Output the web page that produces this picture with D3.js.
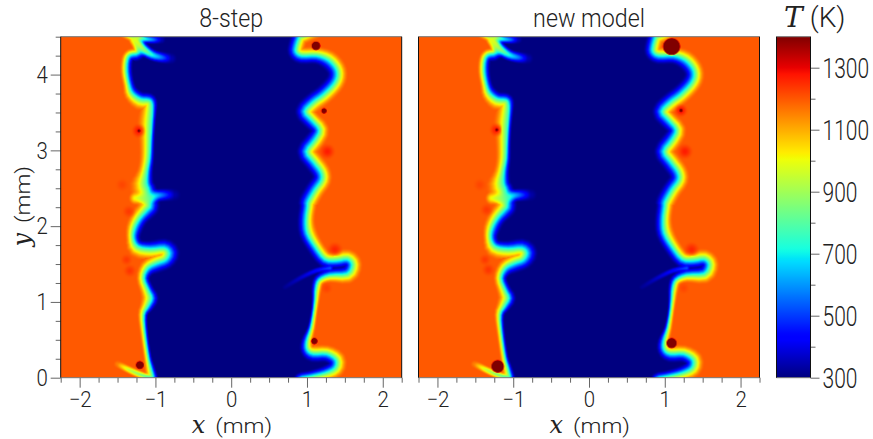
<!DOCTYPE html>
<html>
<head>
<meta charset="utf-8">
<script src="https://cdn.jsdelivr.net/npm/d3@7"></script>
<style>
	body { margin: 0; background: #fff; }
	svg { display: block; }
	text { fill: #222; font-family: Roboto, sans-serif; font-weight: 300; }
</style>
</head>
<body>
<div id="chart"></div>
<script>
// flame fronts: x (mm), y (mm), half thickness unburnt side, half thickness burnt side
var left8 = [
	[-1.0,-.114,.04,.05],[-1.031,.018,.04,.06],[-1.066,.15,.035,.05],[-1.096,.28,.03,.04],[-1.14,.59,.03,.04],
	[-1.154,.83,.035,.05],[-1.10,.94,.05,.07],[-1.053,1.05,.06,.09],[-1.096,1.16,.05,.07],[-1.154,1.315,.05,.06],
	[-1.10,1.447,.07,.07],[-.978,1.513,.08,.08],[-.868,1.557,.08,.08],[-.825,1.645,.09,.09],[-.89,1.71,.08,.08],
	[-1.066,1.70,.07,.09],[-1.232,1.733,.06,.09],[-1.294,1.843,.06,.06],[-1.276,1.975,.07,.07],[-1.206,2.106,.07,.08],
	[-1.11,2.216,.08,.09],[-1.07,2.28,.08,.1],[-1.09,2.47,.07,.13],[-1.118,2.568,.06,.13],[-1.11,2.722,.05,.08],
	[-1.079,2.898,.04,.08],[-1.066,3.118,.035,.09],[-1.053,3.338,.035,.11],[-1.044,3.514,.04,.1],[-1.05,3.62,.05,.08],
	[-1.09,3.665,.06,.08],[-1.2,3.68,.06,.09],[-1.307,3.755,.06,.07],[-1.351,3.866,.05,.05],[-1.382,4.041,.05,.05],
	[-1.373,4.195,.05,.05],[-1.329,4.261,.06,.05],[-1.232,4.287,.06,.05],[-1.232,4.393,.05,.05],[-1.285,4.499,.05,.05],
	[-1.285,4.613,.05,.05]
];
var right8 = [
	[.93,4.613,.07,.07],[.899,4.499,.07,.07],[.864,4.393,.07,.07],[.855,4.305,.07,.07],[.93,4.252,.07,.07],
	[1.127,4.252,.07,.07],[1.281,4.195,.08,.08],[1.382,4.085,.08,.08],[1.399,3.975,.08,.08],[1.346,3.865,.08,.08],
	[1.215,3.734,.08,.08],[1.083,3.637,.08,.08],[.974,3.514,.08,.08],[1.061,3.404,.08,.07],[1.162,3.272,.07,.08],
	[1.105,3.14,.08,.08],[.996,2.986,.08,.08],[1.083,2.854,.08,.08],[1.18,2.722,.08,.08],[1.193,2.612,.08,.08],
	[1.105,2.48,.08,.08],[1.018,2.326,.08,.08],[1.009,2.26,.07,.07],[.987,2.084,.07,.07],[1.004,1.909,.07,.08],
	[1.105,1.733,.07,.07],[1.237,1.566,.07,.07],[1.39,1.548,.07,.08],[1.531,1.566,.07,.08],[1.596,1.491,.07,.08],
	[1.531,1.372,.07,.08],[1.303,1.354,.06,.06],[1.162,1.293,.05,.05],[1.118,1.183,.04,.05],[1.105,1.029,.03,.04],
	[1.083,.853,.025,.035],[1.048,.655,.03,.04],[.996,.479,.05,.05],[1.004,.369,.06,.06],[1.083,.317,.07,.07],
	[1.259,.317,.07,.07],[1.382,.237,.07,.08],[1.368,.128,.07,.08],[1.237,.062,.06,.07],[1.039,.018,.05,.06],
	[.908,-.013,.05,.06],[.908,-.114,.05,.06]
];
var leftNew = [
	[-1.01,-.114,.04,.05],[-1.04,.018,.04,.06],[-1.075,.15,.035,.05],[-1.11,.28,.03,.04],[-1.155,.59,.03,.04],
	[-1.17,.83,.035,.05],[-1.115,.94,.05,.07],[-1.06,1.05,.06,.09],[-1.105,1.16,.05,.07],[-1.16,1.315,.05,.06],
	[-1.10,1.447,.07,.07],[-.98,1.513,.08,.08],[-.87,1.557,.08,.08],[-.825,1.645,.09,.09],[-.89,1.71,.08,.08],
	[-1.066,1.70,.07,.09],[-1.235,1.733,.06,.09],[-1.298,1.843,.06,.06],[-1.28,1.975,.07,.07],[-1.21,2.106,.07,.08],
	[-1.115,2.216,.08,.09],[-1.08,2.28,.08,.1],[-1.10,2.47,.07,.13],[-1.13,2.568,.06,.13],[-1.125,2.722,.05,.08],
	[-1.095,2.898,.04,.08],[-1.085,3.118,.035,.09],[-1.072,3.338,.035,.11],[-1.06,3.514,.04,.1],[-1.065,3.62,.05,.08],
	[-1.10,3.665,.06,.08],[-1.21,3.68,.06,.09],[-1.31,3.755,.06,.07],[-1.355,3.866,.05,.05],[-1.385,4.041,.05,.05],
	[-1.375,4.195,.05,.05],[-1.33,4.261,.06,.05],[-1.235,4.287,.06,.05],[-1.235,4.393,.05,.05],[-1.29,4.499,.05,.05],
	[-1.29,4.613,.05,.05]
];
var rightNew = [
	[.91,4.613,.07,.07],[.88,4.499,.07,.07],[.85,4.393,.07,.07],[.845,4.305,.07,.07],[.92,4.252,.07,.07],
	[1.12,4.252,.07,.07],[1.27,4.195,.08,.08],[1.37,4.085,.08,.08],[1.39,3.975,.08,.08],[1.335,3.865,.08,.08],
	[1.205,3.734,.08,.08],[1.075,3.637,.08,.08],[.965,3.514,.08,.08],[1.05,3.404,.08,.07],[1.15,3.272,.07,.08],
	[1.095,3.14,.08,.08],[.99,2.986,.08,.08],[1.075,2.854,.08,.08],[1.17,2.722,.08,.08],[1.185,2.612,.08,.08],
	[1.095,2.48,.08,.08],[1.01,2.326,.08,.08],[1.0,2.26,.07,.07],[.98,2.084,.07,.07],[.995,1.909,.07,.08],
	[1.095,1.733,.07,.07],[1.23,1.566,.07,.07],[1.38,1.548,.07,.08],[1.52,1.566,.07,.08],[1.585,1.491,.07,.08],
	[1.52,1.372,.07,.08],[1.29,1.354,.06,.06],[1.15,1.293,.05,.05],[1.105,1.183,.04,.05],[1.09,1.029,.03,.04],
	[1.07,.853,.025,.035],[1.035,.655,.03,.04],[.985,.479,.05,.05],[.995,.369,.06,.06],[1.075,.317,.07,.07],
	[1.25,.317,.07,.07],[1.372,.237,.07,.08],[1.358,.128,.07,.08],[1.227,.062,.06,.07],[1.03,.018,.05,.06],
	[.9,-.013,.05,.06],[.9,-.114,.05,.06]
];

// thin tongues: x, y, temperature along the tongue, half width
var wisps8 = [
	[[-1.263,2.37,1000,.1],[-1.11,2.37,850,.1],[-.978,2.405,650,.1],[-.846,2.414,480,.1],[-.75,2.414,340,.1]],
	[[-1.263,4.459,1000,.1],[-1.175,4.349,900,.1],[-1.044,4.261,720,.09],[-.912,4.226,560,.09],[-.794,4.213,350,.09]],
	[[-1.232,4.49,950,.07],[-1.132,4.472,720,.07],[-1.022,4.463,560,.07],[-.925,4.463,360,.07]],
	[[-1.5,.18,1150,.06],[-1.439,.15,1050,.06],[-1.351,.106,950,.06],[-1.232,.053,880,.06],[-1.088,.004,800,.05]],
	[[.711,1.196,320,.05],[.908,1.315,370,.05],[1.127,1.416,440,.05],[1.303,1.447,520,.05]]
];
var wispsNew = [
	[[-1.28,2.37,1000,.1],[-1.13,2.37,850,.1],[-.99,2.405,650,.1],[-.86,2.414,480,.1],[-.77,2.414,340,.1]],
	[[-1.27,4.459,1000,.1],[-1.185,4.349,900,.1],[-1.055,4.261,720,.09],[-.925,4.226,560,.09],[-.81,4.213,350,.09]],
	[[-1.24,4.49,950,.07],[-1.14,4.472,720,.07],[-1.03,4.463,560,.07],[-.94,4.463,360,.07]],
	[[-1.51,.18,1150,.06],[-1.445,.15,1050,.06],[-1.36,.106,950,.06],[-1.24,.053,880,.06],[-1.095,.004,800,.05]],
	[[.70,1.196,320,.05],[.90,1.315,370,.05],[1.115,1.416,440,.05],[1.29,1.447,520,.05]]
];

// hot spots: x, y, radius, peak temperature
var spots8 = [[1.118,4.38,.05,1400],[1.224,3.522,.028,1400],[1.096,.484,.035,1400],[-1.206,.167,.045,1400],[-1.219,3.259,.012,1400]];
var spotsNew = [[1.09,4.37,.105,1400],[1.214,3.527,.014,1400],[1.09,.457,.06,1400],[-1.205,.15,.075,1400],[-1.218,3.272,.012,1400]];
var glows8 = [[1.268,2.986,.12,1270],[1.368,1.689,.12,1260],[-1.338,1.412,.1,1240],[-1.382,1.557,.09,1235],[-1.351,2.194,.1,1235],[-1.439,2.546,.1,1220],[1.259,1.183,.09,1225],[-1.219,3.259,.11,1280]];
var glowsNew = [[1.266,2.986,.12,1270],[1.354,1.689,.12,1260],[-1.328,1.425,.1,1240],[-1.372,1.557,.09,1235],[-1.35,2.216,.1,1235],[-1.44,2.546,.1,1220],[1.25,1.183,.09,1220],[-1.218,3.272,.11,1280],[1.214,3.527,.1,1290]];

var xMajor = [-2, -1, 0, 1, 2];
var xMinor = [-2.25, -1.75, -1.5, -1.25, -.75, -.5, -.25, .25, .5, .75, 1.25, 1.5, 1.75, 2.25];
var yMajor = [0, 1, 2, 3, 4];
var yMinor = [.25, .5, .75, 1.25, 1.5, 1.75, 2.25, 2.5, 2.75, 3.25, 3.5, 3.75, 4.25, 4.5];
var tMajor = [300, 500, 700, 900, 1100, 1300];
var tMinor = [400, 600, 800, 1000, 1200];

var tCold = 300, tHot = 1197, tMax = 1400;
var thick = 1.85;
var width = 873, height = 439;

var svg = d3.select("#chart").append("svg").attr("width", width).attr("height", height);

var yScale = d3.scaleLinear().domain([0, 4.5]).range([377.7, 36.7]);
var tScale = d3.scaleLinear().domain([tCold, tMax]).range([377.7, 36.7]);

// matplotlib jet
var jetR = d3.scaleLinear().domain([0, .35, .66, .89, 1]).range([0, 0, 1, 1, .5]);
var jetG = d3.scaleLinear().domain([0, .125, .375, .64, .91, 1]).range([0, 0, 1, 1, 0, 0]);
var jetB = d3.scaleLinear().domain([0, .11, .34, .65, 1]).range([.5, 1, 1, 0, 0]);
function jet(T) {
	var t = Math.max(0, Math.min(1, (T - tCold) / (tMax - tCold)));
	return [Math.round(jetR(t) * 255), Math.round(jetG(t) * 255), Math.round(jetB(t) * 255)];
}

function smooth(u) {
	u = Math.max(0, Math.min(1, u));
	return u * u * (3 - 2 * u);
}

// round off the read points (catmull-rom through them, all columns)
function rounded(path, closed) {
	var out = [], n = path.length, steps = 3;
	function at(i) {
		return closed ? path[(i + n) % n] : path[Math.max(0, Math.min(n - 1, i))];
	}
	var last = closed ? n : n - 1;
	for (var i = 0; i < last; i++) {
		var p0 = at(i - 1), p1 = at(i), p2 = at(i + 1), p3 = at(i + 2);
		for (var s = 0; s < steps; s++) {
			var t = s / steps;
			out.push(p1.map(function(v, c) {
				return .5 * (2 * v + (p2[c] - p0[c]) * t + (2 * p0[c] - 5 * v + 4 * p2[c] - p3[c]) * t * t + (3 * v - p0[c] - 3 * p2[c] + p3[c]) * t * t * t);
			}));
		}
	}
	out.push(closed ? out[0] : path[n - 1]);
	return out;
}

function nearest(path, x, y) {
	var best = Infinity, bi = 0, bf = 0;
	for (var i = 0; i < path.length - 1; i++) {
		var a = path[i], b = path[i + 1];
		var dx = b[0] - a[0], dy = b[1] - a[1];
		var f = ((x - a[0]) * dx + (y - a[1]) * dy) / (dx * dx + dy * dy);
		f = Math.max(0, Math.min(1, f));
		var ex = a[0] + f * dx - x, ey = a[1] + f * dy - y;
		var d = ex * ex + ey * ey;
		if (d < best) { best = d; bi = i; bf = f; }
	}
	return { d: Math.sqrt(best), i: bi, f: bf };
}

function temperature(x, y, front, poly, wisps, spots, glows) {
	var T;
	if (x > -.6 && x < .6) {
		T = tCold;
	} else {
		var n = nearest(front, x, y);
		var a = front[n.i], b = front[n.i + 1];
		var inside = d3.polygonContains(poly, [x, y]);
		var wu = (a[2] + (b[2] - a[2]) * n.f) * thick, wb = (a[3] + (b[3] - a[3]) * n.f) * thick;
		var u = inside ? .5 - .5 * Math.min(1, n.d / wu) : .5 + .5 * Math.min(1, n.d / wb);
		T = tCold + (tHot - tCold) * smooth(u);
	}

	glows.forEach(function(g) {
		var d = Math.hypot(x - g[0], y - g[1]);
		if (d < g[2] && T > 1000) T += (g[3] - T) * smooth(1 - d / g[2]);
	});
	wisps.forEach(function(w) {
		var m = nearest(w, x, y);
		var p = w[m.i], q = w[m.i + 1];
		var hw = p[3] + (q[3] - p[3]) * m.f;
		if (m.d < hw) {
			var target = p[2] + (q[2] - p[2]) * m.f;
			T += (target - T) * smooth(1 - m.d / hw);
		}
	});
	spots.forEach(function(s) {
		var d = Math.hypot(x - s[0], y - s[1]);
		var soft = .014;
		if (d < s[2] + soft) T += (s[3] - T) * smooth((s[2] + soft - d) / soft);
	});
	return T;
}

function drawPanel(x0, x1, title, leftFront, rightFront, wisps, spots, glows, withY) {
	var xScale = d3.scaleLinear().domain([-2.25, 2.25]).range([x0, x1]);
	var closed = rounded(leftFront.concat(rightFront), true);
	var poly = closed.map(function(d) { return [d[0], d[1]]; });
	var tongues = wisps.map(function(w) { return rounded(w, false); });

	var w = Math.round(x1 - x0), h = Math.round(yScale(0) - yScale(4.5));
	var canvas = document.createElement("canvas");
	canvas.width = w;
	canvas.height = h;
	var ctx = canvas.getContext("2d");
	var img = ctx.createImageData(w, h);
	for (var j = 0; j < h; j++) {
		var y = yScale.invert(yScale(4.5) + j + .5);
		for (var i = 0; i < w; i++) {
			var x = xScale.invert(x0 + i + .5);
			var c = jet(temperature(x, y, closed, poly, tongues, spots, glows));
			var k = (j * w + i) * 4;
			img.data[k] = c[0];
			img.data[k + 1] = c[1];
			img.data[k + 2] = c[2];
			img.data[k + 3] = 255;
		}
	}
	ctx.putImageData(img, 0, 0);

	svg.append("image")
		.attr("x", x0).attr("y", yScale(4.5))
		.attr("width", w).attr("height", h)
		.attr("href", canvas.toDataURL());

	var g = svg.append("g");
	var major = d3.axisBottom(xScale).tickValues(xMajor).tickSize(10).tickPadding(4)
		.tickFormat(function(d) { return d < 0 ? "\u2212" + (-d) : d; });
	var minor = d3.axisBottom(xScale).tickValues(xMinor).tickSize(5).tickFormat("");
	styleAxis(g.append("g").attr("transform", "translate(0," + yScale(0) + ")").call(major), .93, 22);
	styleAxis(g.append("g").attr("transform", "translate(0," + yScale(0) + ")").call(minor), .93, 22);

	if (withY) {
		var ymajor = d3.axisLeft(yScale).tickValues(yMajor).tickSize(10).tickPadding(3).tickFormat(d3.format("d"));
		var yminor = d3.axisLeft(yScale).tickValues(yMinor).tickSize(5).tickFormat("");
		styleAxis(g.append("g").attr("transform", "translate(" + x0 + ",0)").call(ymajor), .85, 24);
		styleAxis(g.append("g").attr("transform", "translate(" + x0 + ",0)").call(yminor), .85, 24);
	}

	frame(x0, x1);

	svg.append("text").attr("x", (x0 + x1) / 2).attr("y", 27)
		.attr("text-anchor", "middle").attr("font-size", 25)
		.attr("transform", "translate(" + (x0 + x1) / 2 + ",0) scale(.93,1) translate(" + (-(x0 + x1) / 2) + ",0)")
		.text(title);

	mathLabel("translate(" + (x0 + x1) / 2 + ",433)", "x");
}

function styleAxis(sel, sx, size) {
	sel.select(".domain").remove();
	sel.selectAll("line").attr("stroke", "#666").attr("stroke-width", 1);
	sel.selectAll("text")
		.attr("font-size", size)
		.attr("fill", "#222")
		.style("font-family", "Roboto, sans-serif")
		.style("font-weight", 300)
		.each(function() {
			var t = d3.select(this);
			if (t.attr("x") !== null) t.attr("x", +t.attr("x") / sx);
		})
		.attr("transform", "scale(" + sx + ",1)");
}

function frame(x0, x1) {
	var top = yScale(4.5), bot = yScale(0);
	svg.append("line").attr("x1", x0).attr("x2", x1).attr("y1", top).attr("y2", top).attr("stroke", "#777");
	svg.append("line").attr("x1", x0).attr("x2", x1).attr("y1", bot).attr("y2", bot).attr("stroke", "#777");
	svg.append("line").attr("x1", x0).attr("x2", x0).attr("y1", top).attr("y2", bot).attr("stroke", "#111");
	svg.append("line").attr("x1", x1).attr("x2", x1).attr("y1", top).attr("y2", bot).attr("stroke", "#111");
}

// symbol and unit are separate texts, the unit has to clear the tick label under the panel
function mathLabel(transform, sym) {
	var g = svg.append("g").attr("transform", transform);
	g.append("text").attr("x", -26).attr("text-anchor", "end")
		.style("font-family", "'DejaVu Serif', serif").style("font-style", "italic")
		.style("font-weight", 400).attr("font-size", 24).text(sym);
	g.append("text").attr("x", -16).attr("font-size", 21).attr("textLength", 57).attr("lengthAdjust", "spacingAndGlyphs").text("(mm)");
}

drawPanel(60.7, 401.7, "8-step", left8, right8, wisps8, spots8, glows8, true);
drawPanel(418.5, 759.5, "new model", leftNew, rightNew, wispsNew, spotsNew, glowsNew, false);

mathLabel("translate(30,207) rotate(-90)", "y");

// colour bar
var defs = svg.append("defs");
var grad = defs.append("linearGradient").attr("id", "jetbar").attr("x1", 0).attr("x2", 0).attr("y1", 1).attr("y2", 0);
d3.range(0, 1.0001, .01).forEach(function(t) {
	var c = jet(tCold + t * (tMax - tCold));
	grad.append("stop").attr("offset", t).attr("stop-color", "rgb(" + c + ")");
});
var cx0 = 776.5, cx1 = 810.5;
svg.append("rect").attr("x", cx0).attr("y", tScale(tMax)).attr("width", cx1 - cx0)
	.attr("height", tScale(tCold) - tScale(tMax)).attr("fill", "url(#jetbar)");
var tm = d3.axisRight(tScale).tickValues(tMajor).tickSize(9).tickPadding(3).tickFormat(d3.format("d"));
var tn = d3.axisRight(tScale).tickValues(tMinor).tickSize(5).tickFormat("");
styleAxis(svg.append("g").attr("transform", "translate(" + cx1 + ",0)").call(tm), .75, 28);
styleAxis(svg.append("g").attr("transform", "translate(" + cx1 + ",0)").call(tn), .75, 28);
svg.selectAll("g").filter(function() { return d3.select(this).attr("transform") === "translate(" + cx1 + ",0)"; })
	.selectAll("text").attr("dy", ".36em");
frame(cx0, cx1);

var tl = svg.append("text").attr("transform", "translate(784,27)").attr("font-size", 28);
tl.append("tspan").style("font-family", "'DejaVu Serif', serif").style("font-style", "italic")
	.style("font-weight", 400).attr("font-size", 28).text("T");
tl.append("tspan").attr("dx", 7).text("(K)");
</script>
</body>
</html>
